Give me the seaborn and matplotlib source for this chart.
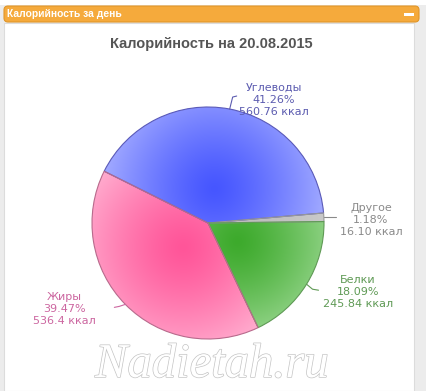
import numpy as np
import matplotlib
matplotlib.use("Agg")
import matplotlib.pyplot as plt
import seaborn as sns
from matplotlib.patches import FancyBboxPatch, Rectangle
import matplotlib.patheffects as pe
from matplotlib.colors import to_rgb

sns.set_theme(style="white")
plt.rcParams['font.family'] = ['DejaVu Sans']

# ---- data ----
categories = ["Углеводы", "Другое", "Белки", "Жиры"]
percents = [41.26, 1.18, 18.09, 39.47]
kcal_labels = ["560.76 ккал", "16.10 ккал", "245.84 ккал", "536.4 ккал"]
base_colors = ["#4656ff", "#bdbdbd", "#3daa2c", "#ff5599"]
light_colors = ["#a6aeff", "#d0d0d0", "#ace0a4", "#ffb2d2"]
edge_colors = ["#5a5ab8", "#999999", "#5f9a55", "#b86a8c"]
label_colors = ["#5c5cb0", "#8a8a8a", "#5f9a55", "#cc66a0"]
title = "Калорийность на 20.08.2015"
header = "Калорийность за день"
watermark = "Nadietah.ru"

W, H = 426, 391
fig = plt.figure(figsize=(W / 100, H / 100), dpi=100)
fig.patch.set_facecolor("#ececec")
ax = fig.add_axes([0, 0, 1, 1])

# pie
cx, cy, R = 208, 168, 116
start = 153.5
wedges, _ = ax.pie(percents, startangle=start, counterclock=False, center=(cx, cy),
                   radius=R, frame=True,
                   wedgeprops=dict(linewidth=0.8), normalize=True)
ax.set_xlim(0, W)
ax.set_ylim(0, H)
ax.axis("off")
ax.set_aspect("auto")

# panel
ax.add_patch(Rectangle((4, 0), 410, 368, facecolor="white", edgecolor="#dcdcdc", lw=0.8, zorder=0))
ax.add_patch(Rectangle((0, 386), W, 5, facecolor="white", edgecolor="none", zorder=0))
# header bar
ax.add_patch(FancyBboxPatch((4, 369), 415, 16, boxstyle="round,pad=0,rounding_size=4",
                            facecolor="#f5aa3c", edgecolor="#e0962a", lw=0.8, zorder=1))
ax.text(7, 377, header, color="white", fontsize=7.4, fontweight="bold",
        family="Liberation Sans", va="center", ha="left", zorder=2)
ax.add_patch(Rectangle((404, 375), 10, 3, facecolor="white", edgecolor="none", zorder=2))

# title
ax.text(211, 347, title, color="#555555", fontsize=10.5, fontweight="bold",
        family="Liberation Sans", ha="center", va="center", zorder=2)

xs = np.linspace(cx - R, cx + R, 300)
ys = np.linspace(cy - R, cy + R, 300)
X, Y = np.meshgrid(xs, ys)
for w, bc, lc, ec in zip(wedges, base_colors, light_colors, edge_colors):
    mid = np.deg2rad((w.theta1 + w.theta2) / 2)
    gx = cx + 0.3 * R * np.cos(mid)
    gy = cy + 0.3 * R * np.sin(mid)
    d = np.sqrt((X - gx) ** 2 + (Y - gy) ** 2) / (1.0 * R)
    t = (np.clip(d, 0, 1) ** 1.3)[..., None]
    img = np.array(to_rgb(bc)) * (1 - t) + np.array(to_rgb(lc)) * t
    im = ax.imshow(img, extent=(cx - R, cx + R, cy - R, cy + R), origin="lower",
                   zorder=3, interpolation="bilinear", aspect="auto")
    im.set_clip_path(w)
    w.set_facecolor("none")
    w.set_edgecolor(ec)
    w.set_zorder(4)

# labels with connectors
label_pos = {
    "Углеводы": (274, 291),
    "Другое": (371, 171),
    "Белки": (358, 99),
    "Жиры": (64, 82),
}
for w, cat, p, k, col in zip(wedges, categories, percents, kcal_labels, label_colors):
    mid = np.deg2rad((w.theta1 + w.theta2) / 2)
    ex, ey = cx + R * np.cos(mid), cy + R * np.sin(mid)
    lx, ly = label_pos[cat]
    if cat == "Углеводы":
        px = [ex, ex + 2, ex + 3, ex + 7]
        py = [ey, ey + 8, ey + 12, ey + 13]
    elif cat == "Другое":
        px = [ex, ex + 12]
        py = [ey, ey]
    elif cat == "Белки":
        px = [ex, ex + 6, ex + 12]
        py = [ey, ey - 5, ey - 6]
    else:
        px = [ex, ex - 6, ex - 11]
        py = [ey, ey - 2, ey - 3]
    ax.plot(px, py, color=col, lw=0.8, zorder=5)
    ax.text(lx, ly, f"{cat}\n{p:.2f}%\n{k}", color=col, fontsize=8, ha="center",
            va="center", linespacing=1.3, zorder=5)

# watermark
ax.text(212, 26, watermark, fontsize=35, family="Liberation Serif", style="italic",
        color="white", ha="center", va="center", zorder=6,
        path_effects=[pe.Stroke(linewidth=1.0, foreground="#c4c4c4"), pe.Normal()])

fig.savefig("out.png", dpi=100, facecolor=fig.get_facecolor())
